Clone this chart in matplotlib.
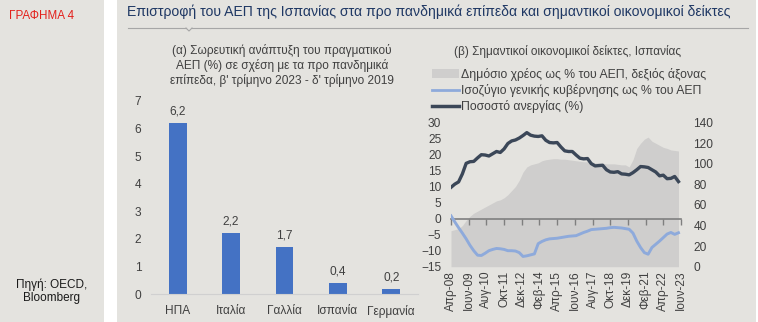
import matplotlib
matplotlib.use("Agg")
import matplotlib.pyplot as plt
from matplotlib.patches import Patch, Rectangle
from matplotlib.lines import Line2D
from matplotlib import font_manager
import numpy as np

# ---------------- data ----------------
countries = ["ΗΠΑ", "Ιταλία", "Γαλλία", "Ισπανία", "Γερμανία"]
gdp_growth = [6.2, 2.2, 1.7, 0.4, 0.2]

# quarterly observations, Q2 2008 ... Q2 2023 (months since Apr-08)
months = list(range(0, 181, 3))
unemployment = [9.8, 10.8, 11.5, 14.0, 17.3, 17.8, 17.9, 19.0, 20.0, 19.9,
                19.6, 20.3, 21.0, 20.7, 21.8, 23.5, 24.3, 24.6, 25.2, 26.0,
                26.9, 26.1, 25.8, 25.7, 25.9, 24.5, 23.8, 23.7, 23.8, 22.4,
                21.2, 21.0, 21.0, 19.9, 18.9, 18.7, 18.8, 17.2, 16.5, 16.6,
                16.7, 15.3, 14.6, 14.5, 14.7, 14.0, 13.9, 13.7, 14.4, 15.3,
                16.3, 16.2, 16.0, 15.3, 14.6, 13.4, 13.6, 12.5, 12.6, 13.2,
                11.6]
balance = [0.9, -1.0, -2.8, -4.5, -6.3, -8.3, -10.0, -11.4, -11.5, -10.8,
           -10.0, -9.6, -9.3, -9.4, -9.6, -10.0, -10.0, -10.1, -10.6, -11.8,
           -11.6, -11.3, -11.0, -7.8, -7.1, -6.6, -6.3, -6.2, -6.1, -5.9,
           -5.7, -5.5, -5.4, -5.3, -4.8, -4.3, -3.9, -3.4, -3.3, -3.2,
           -3.1, -3.0, -2.8, -2.7, -2.8, -2.9, -3.1, -3.3, -4.5, -7.0,
           -9.0, -10.6, -11.1, -9.0, -8.0, -7.0, -5.9, -4.8, -4.3, -4.9,
           -4.4]
debt = [35, 36, 37, 40, 45, 49, 52, 54, 56, 58,
        60, 62, 64, 65, 67, 70, 74, 78, 84, 92,
        97, 99, 100, 101, 103, 104, 104.5, 105, 105, 104.5,
        104.5, 104, 103.5, 103, 102.5, 102, 102, 102, 101, 101,
        100.5, 100, 100, 100, 99.5, 99, 99, 97, 104, 115,
        120, 124, 126, 122, 120, 118, 116, 115, 113.5, 113,
        112.5]
tick_months = list(range(0, 183, 14))
tick_labels = ["Απρ-08", "Ιουν-09", "Αυγ-10", "Οκτ-11", "Δεκ-12", "Φεβ-14",
               "Απρ-15", "Ιουν-16", "Αυγ-17", "Οκτ-18", "Δεκ-19", "Φεβ-21",
               "Απρ-22", "Ιουν-23"]

# ---------------- style ----------------
names = {f.name for f in font_manager.fontManager.ttflist}
base_font = "Liberation Sans" if "Liberation Sans" in names else "DejaVu Sans"
narrow_font = "Liberation Sans Narrow" if "Liberation Sans Narrow" in names else base_font
plt.rcParams["font.family"] = [base_font, "DejaVu Sans"]

BG = "#e4e3df"
TXT = "#404040"
BAR = "#4472c4"
AREA = "#cfcecd"
BLUE = "#8eaadb"
DARK = "#3b4758"
FS = 8.6

W, H = 758, 322
fig = plt.figure(figsize=(W / 100, H / 100), dpi=100)
fig.patch.set_facecolor("white")

def fx(x):
    return x / W

def fy(y):
    return 1 - y / H

# background panels
fig.add_artist(Rectangle((0, 0), fx(104), 1, transform=fig.transFigure,
                         facecolor=BG, edgecolor="none", zorder=-10))
fig.add_artist(Rectangle((fx(117), 0), fx(756 - 117), 1, transform=fig.transFigure,
                         facecolor=BG, edgecolor="none", zorder=-10))

# header
fig.text(fx(42), fy(16), "ΓΡΑΦΗΜΑ 4", color="#e3201b", fontsize=8.4,
         family=[narrow_font, "DejaVu Sans"], ha="center", va="center")
fig.text(fx(127), fy(12), "Επιστροφή του ΑΕΠ της Ισπανίας στα προ πανδημικά επίπεδα και σημαντικοί οικονομικοί δείκτες",
         color="#1f3864", fontsize=10.1, family=[narrow_font, "DejaVu Sans"],
         ha="left", va="center")
fig.add_artist(Line2D([fx(128), fx(186)], [fy(28), fy(28)], transform=fig.transFigure,
                      color="#a6a6a6", lw=0.8))
fig.add_artist(Line2D([fx(186), fx(189), fx(192)], [fy(28), fy(31), fy(28)],
                      transform=fig.transFigure, color="#a6a6a6", lw=0.8))
fig.add_artist(Line2D([fx(192), fx(748)], [fy(28), fy(28)], transform=fig.transFigure,
                      color="#a6a6a6", lw=0.8))

fig.text(fx(52), fy(291), "Πηγή: OECD,\nBloomberg", color="#1a1a1a", fontsize=8.5,
         ha="center", va="center", linespacing=1.1)

# ---------------- (a) bar chart ----------------
axa = fig.add_axes([fx(151), fy(294.3), fx(267), (294.3 - 100.7) / H])
axa.set_facecolor("none")
x = np.arange(len(countries))
bars = axa.bar(x, gdp_growth, width=0.33, color=BAR, zorder=2)
for xi, v in zip(x, gdp_growth):
    axa.annotate(f"{v:.1f}".replace(".", ","), (xi, v), xytext=(0, 4),
                 textcoords="offset points", ha="center", va="bottom",
                 fontsize=FS, color=TXT)
axa.set_xlim(-0.5, len(countries) - 0.5)
axa.set_ylim(0, 7)
axa.set_yticks(range(0, 8))
axa.set_xticks(x)
axa.set_xticklabels(countries)
for s in ["top", "right", "left"]:
    axa.spines[s].set_visible(False)
axa.spines["bottom"].set_color("#d0d0d0")
axa.tick_params(axis="y", length=0, pad=7, labelsize=FS, labelcolor=TXT)
axa.tick_params(axis="x", length=0, pad=8, labelsize=FS, labelcolor=TXT)
fig.text(fx(282), fy(65.5),
         "(α) Σωρευτική ανάπτυξη του πραγματικού\nΑΕΠ (%) σε σχέση με τα προ πανδημικά\nεπίπεδα, β' τρίμηνο 2023 - δ' τρίμηνο 2019",
         ha="center", va="center", fontsize=FS, color=TXT, linespacing=1.2)

# ---------------- (b) indicators chart ----------------
rect = [fx(451), fy(266.7), fx(230), (266.7 - 122.7) / H]
axl = fig.add_axes(rect)
axd = axl.twinx()
axl.set_zorder(axd.get_zorder() + 1)
axl.patch.set_visible(False)
axd.patch.set_visible(False)

axd.fill_between(months, 0, debt, color=AREA, lw=0)
axd.set_ylim(0, 140)
axd.set_yticks(range(0, 141, 20))

axl.plot(months, balance, color=BLUE, lw=2.1, solid_joinstyle="round")
axl.plot(months, unemployment, color=DARK, lw=2.4, solid_joinstyle="round")
axl.set_ylim(-15, 30)
axl.set_yticks(range(-15, 31, 5))
axl.set_xlim(0, 182)
axl.set_xticks(tick_months)
axl.set_xticklabels(tick_labels, rotation=90)
axl.tick_params(axis="x", length=0, pad=3, labelsize=FS, labelcolor=TXT)
axl.tick_params(axis="y", length=0, pad=7, labelsize=FS, labelcolor=TXT)
axd.tick_params(axis="y", length=0, pad=9, labelsize=FS, labelcolor=TXT)
for a in (axl, axd):
    for s in a.spines.values():
        s.set_visible(False)

# horizontal category axis at zero with outward tick marks
sec = axl.secondary_xaxis(15 / 45)
sec.set_xticks(tick_months)
sec.tick_params(axis="x", direction="out", length=4, width=1, color="#7f7f7f",
                labelbottom=False, labeltop=False)
sec.spines["bottom"].set_color("#7f7f7f")
sec.spines["bottom"].set_linewidth(1.2)
sec.spines["top"].set_visible(False)

fig.text(fx(567), fy(51.5), "(β) Σημαντικοί οικονομικοί δείκτες, Ισπανίας",
         ha="center", va="center", fontsize=8.5, color=TXT)

handles = [Patch(facecolor=AREA, edgecolor="none"),
           Line2D([], [], color=BLUE, lw=2.0),
           Line2D([], [], color=DARK, lw=2.5)]
labels = ["Δημόσιο χρέος ως % του ΑΕΠ, δεξιός άξονας",
          "Ισοζύγιο γενικής κυβέρνησης ως % του ΑΕΠ",
          "Ποσοστό ανεργίας (%)"]
fig.legend(handles, labels, loc="upper left", bbox_to_anchor=(fx(432), fy(68)),
           frameon=False, fontsize=8.8, handlelength=2.2, handletextpad=0.15,
           labelspacing=0.25, borderpad=0, borderaxespad=0, labelcolor=TXT)

fig.savefig("out.png", dpi=100, facecolor=fig.get_facecolor())
